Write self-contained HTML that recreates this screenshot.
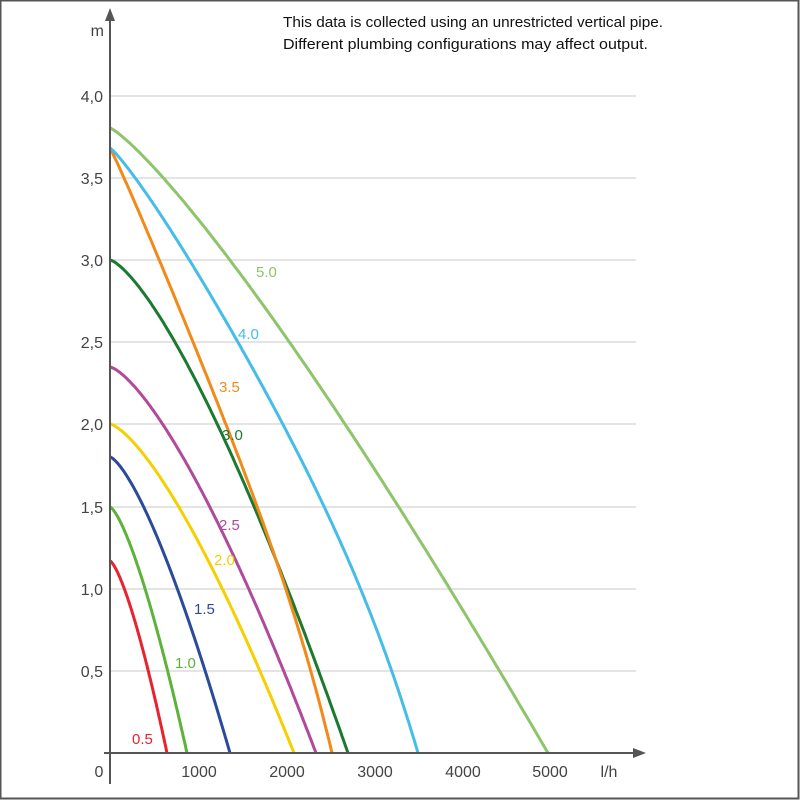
<!DOCTYPE html><html><head><style>
body{margin:0;background:#fff}
svg{display:block;font-family:"Liberation Sans",sans-serif}
</style></head><body>
<svg id="s" width="800" height="800" xmlns="http://www.w3.org/2000/svg">
<rect x="0.5" y="0.5" width="798" height="798" fill="#fff" stroke="#555" stroke-width="2"/>
<g stroke="#c8c8c8" stroke-width="1">
<line x1="110" x2="636" y1="96" y2="96"/><line x1="110" x2="636" y1="178" y2="178"/>
<line x1="110" x2="636" y1="260" y2="260"/><line x1="110" x2="636" y1="342" y2="342"/>
<line x1="110" x2="636" y1="424" y2="424"/><line x1="110" x2="636" y1="507" y2="507"/>
<line x1="110" x2="636" y1="589" y2="589"/><line x1="110" x2="636" y1="671" y2="671"/>
</g>
<g fill="#444" font-size="16" text-anchor="end">
<text x="103" y="102">4,0</text><text x="103" y="184">3,5</text><text x="103" y="266">3,0</text>
<text x="103" y="348">2,5</text><text x="103" y="430">2,0</text><text x="103" y="513">1,5</text>
<text x="103" y="595">1,0</text><text x="103" y="677">0,5</text>
<text x="104" y="36">m</text>
</g>
<g fill="#444" font-size="16" text-anchor="middle">
<text x="99" y="777">0</text><text x="199" y="777">1000</text><text x="287" y="777">2000</text>
<text x="375" y="777">3000</text><text x="463" y="777">4000</text><text x="550" y="777">5000</text>
<text x="609" y="777">l/h</text>
</g>
<g fill="#111" font-size="15">
<text x="283" y="27" textLength="380" lengthAdjust="spacingAndGlyphs">This data is collected using an unrestricted vertical pipe.</text>
<text x="283" y="49" textLength="365" lengthAdjust="spacingAndGlyphs">Different plumbing configurations may affect output.</text>
</g>
<g id="c" fill="none" stroke-width="3"></g>
<g stroke="#555" stroke-width="2">
<line x1="110" y1="14" x2="110" y2="784"/><line x1="104" y1="753" x2="640" y2="753"/>
</g>
<polygon points="110,8 105,21 115,21" fill="#555"/>
<polygon points="646,753 633,748 633,758" fill="#555"/>
<g font-size="15">
<text x="132" y="744" fill="#e8222e">0.5</text>
<text x="175" y="668" fill="#5db33a">1.0</text>
<text x="194" y="614" fill="#2a4a9c">1.5</text>
<text x="214" y="565" fill="#f5d000">2.0</text>
<text x="219" y="530" fill="#b04a9a">2.5</text>
<text x="222" y="440" fill="#1a7a30">3.0</text>
<text x="219" y="392" fill="#f28a1a">3.5</text>
<text x="238" y="339" fill="#45bde8">4.0</text>
<text x="256" y="277" fill="#8ec46a">5.0</text>
</g>
</svg>
<script>
// [color, y0, xEnd, p, a, q]  g = a*t^p + (1-a)*t^q
var C=[["#e8222e",561,167,1.4,1,6],["#5db33a",507,187,1.4,1,6],["#2a4a9c",457,230,1.4,1,6],["#f5d000",424,294,1.4,1,6],
["#b04a9a",367,316,1.4,1,6],["#1a7a30",260,348,1.38,1,6],["#f28a1a",148,332,1.05,0.9,6],["#45bde8",148,418,1.15,0.88,6],["#8ec46a",128,548,1.2,1,6]];
var g=document.getElementById("c"),ns="http://www.w3.org/2000/svg";
C.forEach(function(c){var pts=[];for(var i=0;i<=200;i++){var t=i/200;var x=110+(c[2]-110)*t;var gg=c[4]*Math.pow(t,c[3])+(1-c[4])*Math.pow(t,c[5]);var y=753-(753-c[1])*(1-gg);pts.push(x.toFixed(1)+","+y.toFixed(1));}
var p=document.createElementNS(ns,"polyline");p.setAttribute("points",pts.join(" "));p.setAttribute("stroke",c[0]);g.appendChild(p);});
</script>
</body></html>
